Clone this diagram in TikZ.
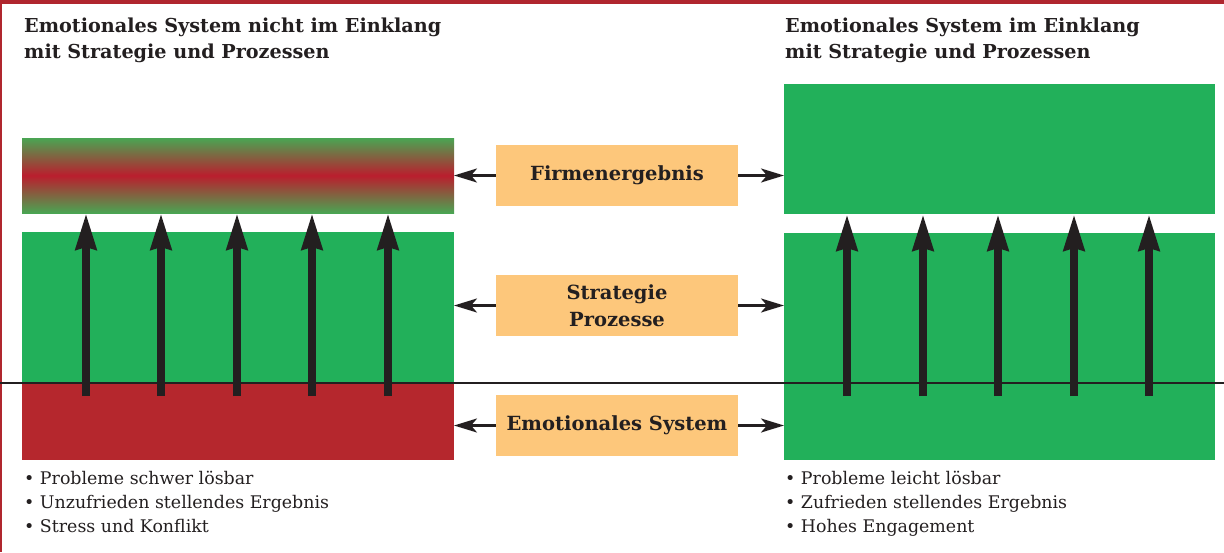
\documentclass[tikz,border=0pt]{standalone}
\usepackage{fontspec}
\setmainfont{DejaVu Serif}
\usetikzlibrary{arrows.meta}
\definecolor{bgreen}{HTML}{22B05A}
\definecolor{bred}{HTML}{B5272D}
\definecolor{gradgreen}{HTML}{4AA553}
\definecolor{gradred}{HTML}{BA1E2E}
\definecolor{lorange}{HTML}{FDC77B}
\definecolor{ink}{HTML}{231F20}
\definecolor{frame}{HTML}{B0262E}
\begin{document}
\begin{tikzpicture}[x=1pt,y=-1pt,
  panel/.style={anchor=north west,inner sep=0pt,outer sep=0pt,draw=none},
  label/.style={fill=lorange,inner sep=0pt,outer sep=0pt,minimum width=242pt,minimum height=61pt,
    align=center,text=ink,font=\bfseries\fontsize{19.5}{27}\selectfont},
  title/.style={anchor=north west,inner sep=0pt,align=left,text=ink,
    font=\bfseries\fontsize{19.2}{25.5}\selectfont},
  bullets/.style={anchor=north west,inner sep=0pt,align=left,text=ink,
    font=\fontsize{17.4}{23.8}\selectfont},
  varrow/.style={line width=8pt,draw=ink,-{Stealth[length=36pt,width=20pt,inset=2pt]}},
  harrow/.style={line width=2.6pt,draw=ink,-{Stealth[length=23pt,width=14pt,inset=6pt]}},
  baseline/.style={line width=2.8pt,draw=ink}]
\useasboundingbox (0,0) rectangle (1224,552);
% frame
\fill[frame] (0,0) rectangle (1224,4);
\fill[frame] (0,0) rectangle (1.6,552);
% titles
\node[title] (ltitle) at (24,18) {Emotionales System nicht im Einklang\\mit Strategie und Prozessen};
\node[title] (rtitle) at (785,18) {Emotionales System im Einklang\\mit Strategie und Prozessen};
% left panels
\node[panel,minimum width=432pt,minimum height=75pt,top color=gradgreen,bottom color=gradgreen,middle color=gradred] (ltop) at (22,138) {};
\node[panel,fill=bgreen,minimum width=432pt,minimum height=152pt] (lmid) at (22,232) {};
\node[panel,fill=bred,minimum width=432pt,minimum height=76pt] (lbot) at (22,384) {};
% right panels
\node[panel,fill=bgreen,minimum width=431pt,minimum height=130pt] (rtop) at (784,84) {};
\node[panel,fill=bgreen,minimum width=431pt,minimum height=227pt] (rmid) at (784,233) {};
% horizontal line
\coordinate (hl) at (0,383);
\coordinate (hr) at (1224,383);
\draw[baseline] (hl) -- (hr);
% center labels
\node[label] (firm) at (617,175.5) {Firmenergebnis};
\node[label] (strat) at (617,305.5) {Strategie\\Prozesse};
\node[label] (emo) at (617,425.5) {Emotionales System};
% horizontal arrows
\draw[harrow] (firm.west) -- (firm.west -| ltop.east);
\draw[harrow] (firm.east) -- (firm.east -| rtop.west);
\draw[harrow] (strat.west) -- (strat.west -| lmid.east);
\draw[harrow] (strat.east) -- (strat.east -| rmid.west);
\draw[harrow] (emo.west) -- (emo.west -| lbot.east);
\draw[harrow] (emo.east) -- (emo.east -| rmid.west);
% vertical arrows
\foreach \i/\x in {1/86,2/161,3/237,4/312,5/388}{
  \coordinate (lt\i) at (\x,396);
  \draw[varrow] (lt\i) -- (lt\i |- ltop.south);
}
\foreach \i/\x in {1/847,2/923,3/998,4/1074,5/1149}{
  \coordinate (rt\i) at (\x,396);
  \draw[varrow] (rt\i) -- (rt\i |- rtop.south);
}
% bullet lists
\node[bullets] (lbul) at (24,471) {• Probleme schwer lösbar\\• Unzufrieden stellendes Ergebnis\\• Stress und Konflikt};
\node[bullets] (rbul) at (785,471) {• Probleme leicht lösbar\\• Zufrieden stellendes Ergebnis\\• Hohes Engagement};
\end{tikzpicture}
\end{document}
